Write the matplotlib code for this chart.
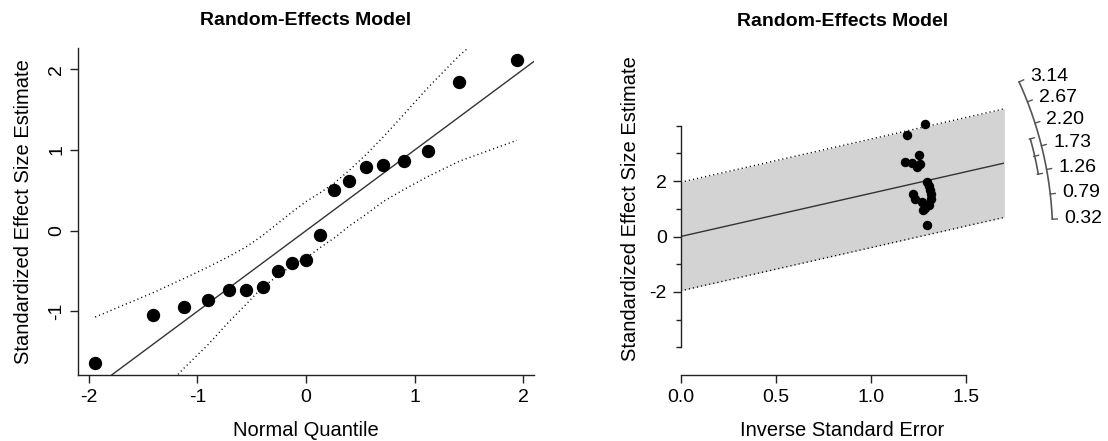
import numpy as np
import matplotlib
matplotlib.use("Agg")
import matplotlib.pyplot as plt

plt.rcParams['font.family'] = ['Liberation Sans', 'DejaVu Sans']
plt.rcParams['axes.unicode_minus'] = False

# ---- normal Q-Q plot of standardized residuals ----
qq_theoretical = [-1.94, -1.41, -1.12, -0.90, -0.71, -0.55, -0.40, -0.26, -0.13, 0.00,
                  0.13, 0.26, 0.40, 0.55, 0.71, 0.90, 1.12, 1.41, 1.94]
qq_residuals = [-1.64, -1.04, -0.95, -0.86, -0.74, -0.73, -0.70, -0.50, -0.40, -0.36,
                -0.05, 0.51, 0.62, 0.79, 0.82, 0.86, 0.99, 1.84, 2.11]
qq_env_upper = [-1.07, -0.77, -0.59, -0.45, -0.32, -0.20, -0.06, 0.09, 0.23, 0.36,
                0.47, 0.59, 0.75, 0.94, 1.16, 1.44, 1.77, 2.17, 2.78]
qq_env_lower = [-2.80, -2.10, -1.70, -1.41, -1.13, -0.91, -0.70, -0.56, -0.43, -0.34,
                -0.21, -0.09, 0.06, 0.20, 0.36, 0.51, 0.67, 0.86, 1.12]
qq_xticks = [-2, -1, 0, 1, 2]
qq_yticks = [-1, 0, 1, 2]

# ---- radial (Galbraith) plot ----
rad_precision = [1.283, 1.187, 1.178, 1.253, 1.257, 1.240, 1.213, 1.295, 1.309, 1.222,
                 1.231, 1.313, 1.266, 1.306, 1.274, 1.295, 1.304, 1.315, 1.285]
rad_zscore = [4.05, 3.66, 2.69, 2.94, 2.61, 2.51, 2.65, 1.97, 1.67, 1.52,
              1.37, 1.37, 1.25, 1.13, 0.95, 0.41, 1.83, 1.53, 1.02]
rad_beta = 1.56
rad_ci = [1.20, 1.92]
rad_zcrit = 1.96
rad_xmax = 1.70
rad_xticks = [0.0, 0.5, 1.0, 1.5]
rad_xticklabels = ["0.0", "0.5", "1.0", "1.5"]
rad_yticks_major = [-2, 0, 2]
rad_yticks_minor = [-4, -3, -2, -1, 0, 1, 2, 3, 4]
arc_ticks = [0.32, 0.79, 1.26, 1.73, 2.20, 2.67, 3.14]

W, H = 1108, 441
fig = plt.figure(figsize=(W / 100, H / 100), dpi=100)


def box(l, t, r, b):
    return [l / W, 1 - b / H, (r - l) / W, (b - t) / H]


AX1 = (78.3, 48.3, 533.7, 375.0)
AX2 = (680.7, 42.6, 1004.4, 375.0)
ax1 = fig.add_axes(box(*AX1))
ax2 = fig.add_axes(box(*AX2))

axis_col = '#222222'
dotted = (0, (0.8, 2.2))
fs_tick = 14
fs_lab = 14.5
fs_title = 14

# ---------------- left panel ----------------
ax1.plot(qq_theoretical, qq_env_upper, color='black', lw=1, ls=dotted, zorder=2)
ax1.plot(qq_theoretical, qq_env_lower, color='black', lw=1, ls=dotted, zorder=2)
ax1.axline((0, 0), slope=1, color='#333333', lw=1, zorder=2)
ax1.plot(qq_theoretical, qq_residuals, 'o', color='black', ms=8.6, zorder=3)
ax1.set_xlim(-2.095, 2.095)
ax1.set_ylim(-1.788, 2.26)
ax1.set_xticks(qq_xticks)
ax1.set_yticks(qq_yticks)
for s in ('top', 'right'):
    ax1.spines[s].set_visible(False)
for s in ('left', 'bottom'):
    ax1.spines[s].set_color(axis_col)
    ax1.spines[s].set_linewidth(1)
ax1.tick_params(direction='out', length=6, width=1, color=axis_col,
                labelsize=fs_tick, pad=4)
ax1.tick_params(axis='y', labelrotation=90, pad=3.5)
for t in ax1.get_yticklabels():
    t.set_va('center')
ax1.set_xlabel("Normal Quantile", fontsize=fs_lab)
ax1.set_ylabel("Standardized Effect Size Estimate", fontsize=fs_lab)
h1 = AX1[3] - AX1[1]
w1 = AX1[2] - AX1[0]
ax1.xaxis.set_label_coords(0.5, (AX1[3] - 431) / h1)
ax1.xaxis.label.set_va('center')
ax1.yaxis.set_label_coords((24 - AX1[0]) / w1, 0.5)
ax1.yaxis.label.set_va('center')
ax1.set_title("Random-Effects Model", fontsize=fs_title, fontweight='bold',
              y=(AX1[3] - 21) / h1, pad=0, va='center')

# ---------------- right panel ----------------
xs = np.array([0.0, rad_xmax])
ax2.fill_between(xs, rad_zcrit + xs * rad_beta, -rad_zcrit + xs * rad_beta,
                 color='#D3D3D3', lw=0, zorder=1)
ax2.plot(xs, xs * rad_beta, color='#333333', lw=1, zorder=2)
ax2.plot(xs, rad_zcrit + xs * rad_beta, color='black', lw=1, ls=dotted, zorder=2)
ax2.plot(xs, -rad_zcrit + xs * rad_beta, color='black', lw=1, ls=dotted, zorder=2)
ax2.plot(rad_precision, rad_zscore, 'o', color='black', ms=5.8, zorder=3)
ax2.set_xlim(0, rad_xmax)
ax2.set_ylim(-5, 7)
for s in ('top', 'right'):
    ax2.spines[s].set_visible(False)
for s in ('left', 'bottom'):
    ax2.spines[s].set_color(axis_col)
    ax2.spines[s].set_linewidth(1)
ax2.spines['left'].set_bounds(-4, 4)
ax2.spines['bottom'].set_bounds(0, 1.5)
ax2.set_xticks(rad_xticks)
ax2.set_xticklabels(rad_xticklabels)
ax2.set_yticks(rad_yticks_major)
ax2.set_yticks(rad_yticks_minor, minor=True)
ax2.tick_params(which='major', direction='out', length=6, width=1, color=axis_col,
                labelsize=fs_tick, pad=4)
ax2.tick_params(which='minor', direction='out', length=3.6, width=1, color=axis_col)
ax2.set_xlabel("Inverse Standard Error", fontsize=fs_lab)
ax2.set_ylabel("Standardized Effect Size Estimate", fontsize=fs_lab)
h2 = AX2[3] - AX2[1]
w2 = AX2[2] - AX2[0]
ax2.xaxis.set_label_coords(0.5, (AX2[3] - 431) / h2)
ax2.xaxis.label.set_va('center')
ax2.yaxis.set_label_coords((630 - AX2[0]) / w2, 0.5)
ax2.yaxis.label.set_va('center')
ax2.set_title("Random-Effects Model", fontsize=fs_title, fontweight='bold',
              y=(AX2[3] - 21) / h2, pad=0, va='center')

# arc scale: circle around the origin in screen space
sx = w2 / rad_xmax          # pixels per x unit
sy = h2 / 12.0              # pixels per y unit


def arc_point(v, r):
    th = np.arctan(v * sy / sx)
    return r * np.cos(th) / sx, r * np.sin(th) / sy


arc_col = '#555555'
R_ARC = 372
vv = np.linspace(arc_ticks[0], arc_ticks[-1], 200)
ax, ay = arc_point(vv, R_ARC)
ax2.plot(ax, ay, color=arc_col, lw=1.2, clip_on=False)
for v in arc_ticks:
    x0, y0 = arc_point(v, R_ARC)
    x1, y1 = arc_point(v, R_ARC + 5)
    ax2.plot([x0, x1], [y0, y1], color=arc_col, lw=1, clip_on=False)
    xl, yl = arc_point(v, R_ARC + 12)
    ax2.text(xl, yl, f"{v:.2f}", fontsize=fs_tick, ha='left', va='center',
             clip_on=False)

# confidence interval of the estimate on an inner arc
R_CI = 363
cv = np.linspace(rad_ci[0], rad_ci[1], 60)
cx, cy = arc_point(cv, R_CI)
ax2.plot(cx, cy, color=arc_col, lw=1.2, clip_on=False)
for v in (rad_ci[0], rad_beta, rad_ci[1]):
    x0, y0 = arc_point(v, R_CI - 1)
    x1, y1 = arc_point(v, R_CI + 4)
    ax2.plot([x0, x1], [y0, y1], color=arc_col, lw=1, clip_on=False)

fig.savefig("out.png", dpi=100)
